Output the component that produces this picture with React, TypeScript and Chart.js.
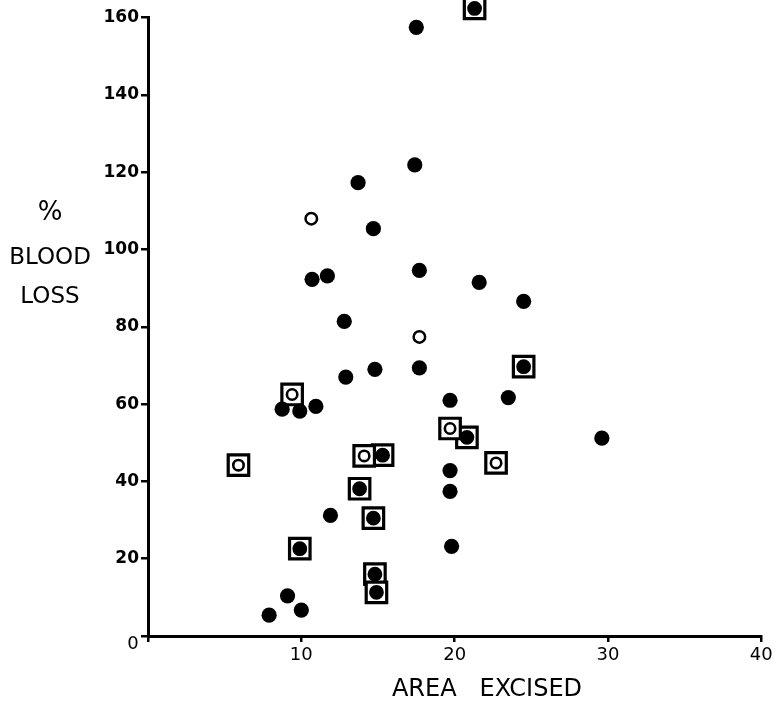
import React, { useEffect, useRef } from 'react';
import { Chart, registerables } from 'chart.js';

Chart.register(...registerables);

// Filled circles (no square)
const filledX = [17.5, 13.7, 17.4, 14.7, 10.7, 11.7, 17.7, 21.6, 24.5, 12.8, 12.9, 14.8, 17.7, 8.75, 9.9, 10.95, 19.7, 23.5, 29.6, 19.7, 19.7, 11.9, 19.8, 9.1, 7.9, 10.0];
const filledY = [157.5, 117.3, 121.9, 105.4, 92.3, 93.2, 94.6, 91.5, 86.6, 81.4, 67.0, 69.0, 69.4, 58.7, 58.2, 59.4, 61.0, 61.7, 51.2, 42.8, 37.4, 31.2, 23.2, 10.4, 5.4, 6.7];
// Open circles (no square)
const openX = [10.65, 17.7];
const openY = [108.0, 77.4];
// Open circles in a square
const sqOpenX = [9.4, 5.9, 14.1, 19.7, 22.7];
const sqOpenY = [62.5, 44.2, 46.6, 53.7, 44.8];
// Filled circles in a square
const sqFilledX = [21.3, 24.5, 20.8, 15.3, 13.8, 14.7, 9.9, 14.8, 14.9];
const sqFilledY = [162.4, 69.7, 51.4, 46.8, 38.1, 30.5, 22.6, 16.0, 11.3];

const xTicks = [0, 10, 20, 30, 40];
const yTicks = [0, 20, 40, 60, 80, 100, 120, 140, 160];

const xTitle = 'AREA   EXCISED';
const yTitleLines = ['%', 'BLOOD', 'LOSS'];
const originLabel = '0';

const pts = (xs: number[], ys: number[]) => xs.map((x, i) => ({ x, y: ys[i] }));

export default function App() {
  const ref = useRef<HTMLCanvasElement | null>(null);

  useEffect(() => {
    document.body.style.margin = '0';
    const canvas = ref.current;
    if (!canvas) return;

    const titlesPlugin = {
      id: 'titles',
      afterDraw(chart: any) {
        const ctx = chart.ctx;
        const a = chart.chartArea;
        ctx.save();
        ctx.fillStyle = '#000';
        ctx.textAlign = 'center';
        ctx.textBaseline = 'middle';
        ctx.font = '24px "DejaVu Sans"';
        ctx.fillText(xTitle, a.left + 339, 690);
        const cx = a.left - 98;
        ctx.font = '26px "DejaVu Sans"';
        ctx.fillText(yTitleLines[0], cx, 213);
        ctx.font = '23px "DejaVu Sans"';
        ctx.fillText(yTitleLines[1], cx, 258);
        ctx.fillText(yTitleLines[2], cx, 297);
        ctx.font = '18px "DejaVu Sans"';
        ctx.fillText(originLabel, a.left - 15, a.bottom + 8);
        ctx.restore();
      },
    };

    const chart = new Chart(canvas, {
      type: 'scatter',
      data: {
        datasets: [
          {
            label: 'filled',
            data: pts(filledX, filledY),
            pointRadius: 7.6,
            pointBackgroundColor: '#000',
            pointBorderWidth: 0,
            order: 1,
            clip: false as any,
          },
          {
            label: 'open',
            data: pts(openX, openY),
            pointRadius: 5.75,
            pointBackgroundColor: '#fff',
            pointBorderColor: '#000',
            pointBorderWidth: 2.5,
            order: 1,
            clip: false as any,
          },
          {
            label: 'sqFilledInner',
            data: pts(sqFilledX, sqFilledY),
            pointRadius: 5.4,
            pointBackgroundColor: '#000',
            pointBorderColor: '#000',
            pointBorderWidth: 4,
            order: 1,
            clip: false as any,
          },
          {
            label: 'sqOpenInner',
            data: pts(sqOpenX, sqOpenY),
            pointRadius: 5.2,
            pointBackgroundColor: '#fff',
            pointBorderColor: '#000',
            pointBorderWidth: 2.6,
            order: 1,
            clip: false as any,
          },
          {
            label: 'squares',
            data: pts(sqFilledX.concat(sqOpenX), sqFilledY.concat(sqOpenY)),
            pointStyle: 'rect',
            pointRadius: 14.5,
            pointBackgroundColor: '#fff',
            pointBorderColor: '#000',
            pointBorderWidth: 3.2,
            order: 2,
            clip: false as any,
          },
        ],
      },
      options: {
        animation: false,
        responsive: false,
        devicePixelRatio: 1,
        layout: { padding: { top: 15, right: 15, left: 0, bottom: 0 } },
        plugins: { legend: { display: false }, tooltip: { enabled: false } },
        scales: {
          x: {
            type: 'linear',
            min: 0,
            max: 40,
            afterBuildTicks: (s: any) => {
              s.ticks = xTicks.map((v) => ({ value: v }));
            },
            afterFit: (s: any) => {
              s.height = 65;
            },
            ticks: {
              autoSkip: false,
              maxRotation: 0,
              color: '#000',
              padding: 3,
              font: { family: 'DejaVu Sans', size: 18 },
              callback: (v: any) => (v === 0 ? '' : String(v)),
            },
            grid: { drawOnChartArea: false, color: '#000', lineWidth: 2.5, tickLength: 6 },
            border: { color: '#000', width: 3 },
          },
          y: {
            type: 'linear',
            min: 0,
            max: 160,
            afterBuildTicks: (s: any) => {
              s.ticks = yTicks.map((v) => ({ value: v }));
            },
            afterFit: (s: any) => {
              s.width = 148;
            },
            ticks: {
              autoSkip: false,
              color: '#000',
              padding: 2,
              font: { family: 'DejaVu Sans', size: 17, weight: 'bold' },
              callback: (v: any) => (v === 0 ? '' : String(v)),
            },
            grid: { drawOnChartArea: false, color: '#000', lineWidth: 2.5, tickLength: 7 },
            border: { color: '#000', width: 3 },
          },
        },
      },
      plugins: [titlesPlugin],
    });

    return () => chart.destroy();
  }, []);

  return (
    <div style={{ width: 779, height: 701 }}>
      <canvas ref={ref} width={779} height={701} style={{ display: 'block' }} />
    </div>
  );
}
